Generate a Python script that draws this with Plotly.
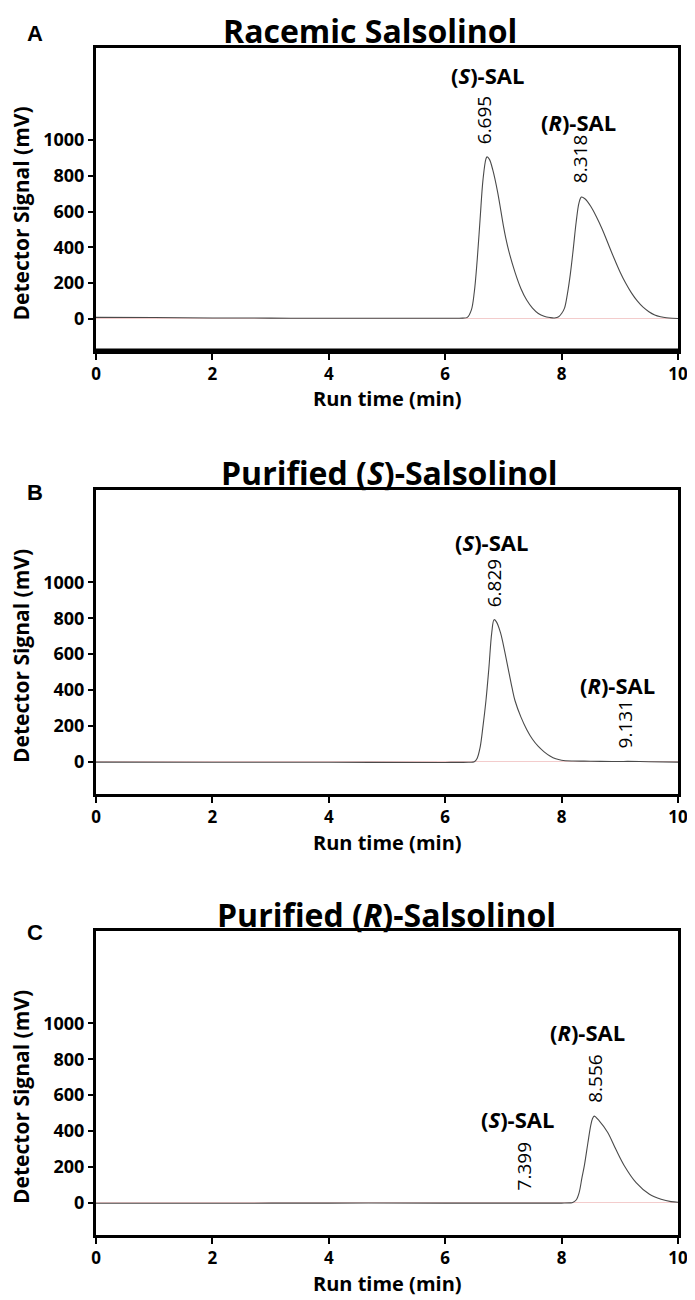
"""
Chiral HPLC chromatograms of salsolinol: racemic, purified (S), purified (R).
"""
import plotly.graph_objects as go
from plotly.subplots import make_subplots

# Panel A - racemic salsolinol (run time in min, detector signal in mV)
racemic_time = [0, 1, 2, 3, 4, 5, 6, 6.3, 6.38, 6.45, 6.5, 6.55, 6.6, 6.65, 6.7, 6.72,
                6.76, 6.82, 6.9, 7.0, 7.04, 7.1, 7.2, 7.3, 7.4, 7.5, 7.6, 7.7, 7.8, 7.88,
                7.95, 8.0, 8.05, 8.1, 8.15, 8.2, 8.25, 8.3, 8.34, 8.4, 8.5, 8.6, 8.7, 8.8,
                8.9, 9.0, 9.1, 9.2, 9.3, 9.4, 9.5, 9.6, 9.7, 9.8, 9.9, 10]
racemic_signal = [8, 7, 5, 4, 3, 3, 3, 4, 8, 50, 150, 330, 560, 780, 895, 906,
                  892, 830, 710, 520, 453, 370, 260, 170, 105, 60, 30, 14, 7, 5,
                  12, 30, 60, 140, 250, 390, 540, 650, 681, 672, 630, 570, 500, 420,
                  340, 265, 200, 145, 100, 65, 40, 22, 12, 6, 3, 2]

# Panel B - purified (S)-salsolinol
s_pure_time = [0, 2, 4, 6, 6.4, 6.5, 6.55, 6.6, 6.65, 6.7, 6.75, 6.8, 6.84, 6.88, 6.95,
               7.0, 7.1, 7.15, 7.2, 7.3, 7.4, 7.5, 7.6, 7.7, 7.8, 7.9, 8.0, 8.2, 8.5,
               9.0, 9.13, 9.5, 10]
s_pure_signal = [-2, -3, -3, -4, -3, 0, 20, 80, 200, 340, 520, 720, 792, 780, 720,
                 650, 490, 410, 340, 250, 180, 125, 85, 55, 32, 16, 8, 4, 3,
                 1, 2, 0, -2]

# Panel C - purified (R)-salsolinol
r_pure_time = [0, 2, 4, 6, 7.4, 8, 8.15, 8.19, 8.25, 8.3, 8.35, 8.39, 8.45, 8.5, 8.53,
               8.56, 8.65, 8.79, 8.93, 9.08, 9.28, 9.51, 9.71, 9.88, 10]
r_pure_signal = [-3, -3, -2, -2, -2, -2, -1, 1, 15, 55, 140, 205, 330, 430, 468,
                 483, 455, 393, 299, 205, 112, 47, 19, 6, 3]

# Peak labels per panel: (x, y, text)
peak_names = [
    [(6.72, 1365, '(<i>S</i>)-SAL'), (8.29, 1100, '(<i>R</i>)-SAL')],
    [(6.80, 1225, '(<i>S</i>)-SAL'), (8.96, 430, '(<i>R</i>)-SAL')],
    [(8.45, 953, '(<i>R</i>)-SAL'), (7.25, 467, '(<i>S</i>)-SAL')],
]
retention_times = [
    [(6.67, 1112, '6.695'), (8.33, 892, '8.318')],
    [(6.83, 992, '6.829'), (9.09, 208, '9.131')],
    [(8.56, 692, '8.556'), (7.35, 201, '7.399')],
]
panel_titles = ['Racemic Salsolinol', 'Purified (<i>S</i>)-Salsolinol',
                'Purified (<i>R</i>)-Salsolinol']
panel_letters = ['A', 'B', 'C']

OFF = 8                      # page body margin
W, H = 695 - OFF, 1300 - OFF
L, R = 96 - OFF, 17
# frame top/bottom in page px for each panel
FRAMES = [(48, 351), (490, 794), (931, 1235)]
TITLE_POS = [(370, 30.5), (389, 473), (386, 914)]
LETTER_Y = [33, 492, 932]
BOLD = 'Open Sans, Lato, sans-serif'


def px_x(p):
    return (p - OFF - L) / (W - L - R)


def px_y(p):
    return 1 - (p - OFF) / H


fig = make_subplots(rows=3, cols=1)
series = [(racemic_time, racemic_signal), (s_pure_time, s_pure_signal),
          (r_pure_time, r_pure_signal)]

for i, (t, s) in enumerate(series):
    row = i + 1
    fig.add_trace(go.Scatter(x=t, y=s, mode='lines', line=dict(color='#4a4a4a', width=1.1),
                             line_shape='spline', showlegend=False), row=row, col=1)
    top, bot = FRAMES[i]
    fig.update_xaxes(domain=[0, 1], range=[0, 10], tickvals=[0, 2, 4, 6, 8, 10],
                     ticks='outside', ticklen=6, tickwidth=2, tickcolor='black',
                     showline=True, linewidth=3, linecolor='black', mirror=True,
                     showgrid=False, zeroline=False, automargin=False,
                     tickfont=dict(family=BOLD, size=17, color='black', weight='bold'),
                     row=row, col=1)
    fig.update_yaxes(domain=[px_y(bot), px_y(top)], range=[-180, 1515],
                     tickvals=[0, 200, 400, 600, 800, 1000],
                     ticks='outside', ticklen=5, tickwidth=2, tickcolor='black',
                     showline=True, linewidth=3, linecolor='black', mirror=True,
                     showgrid=False, zeroline=True, zerolinecolor='#f3cccc',
                     zerolinewidth=1, automargin=False,
                     tickfont=dict(family=BOLD, size=18, color='black', weight='bold'),
                     row=row, col=1)

    xref = 'x' if i == 0 else f'x{row}'
    yref = 'y' if i == 0 else f'y{row}'
    if i == 0:
        # heavier bottom rule on the first panel
        fig.add_shape(type='line', xref='x domain', yref='y domain', x0=0, x1=1,
                      y0=0, y1=0, line=dict(color='black', width=5))
    for x, y, txt in peak_names[i]:
        fig.add_annotation(x=x, y=y, xref=xref, yref=yref, text=f'<b>{txt}</b>',
                           showarrow=False, xanchor='center', yanchor='middle',
                           font=dict(family=BOLD, size=22, color='black'))
    for x, y, txt in retention_times[i]:
        fig.add_annotation(x=x, y=y, xref=xref, yref=yref, text=txt, textangle=-90,
                           showarrow=False, xanchor='center', yanchor='middle',
                           font=dict(family='Open Sans, sans-serif', size=19, color='black'))

    # panel title, letter, axis titles
    tx, ty = TITLE_POS[i]
    fig.add_annotation(x=px_x(tx), y=px_y(ty), xref='paper', yref='paper',
                       text=f'<b>{panel_titles[i]}</b>', showarrow=False,
                       xanchor='center', yanchor='middle', borderpad=0,
                       font=dict(family=BOLD, size=32, color='black'))
    fig.add_annotation(x=px_x(35), y=px_y(LETTER_Y[i]), xref='paper', yref='paper',
                       text=f'<b>{panel_letters[i]}</b>', showarrow=False,
                       xanchor='center', yanchor='middle',
                       font=dict(family='Liberation Sans, Arial, sans-serif', size=22,
                                 color='black'))
    fig.add_annotation(x=px_x(21), y=px_y((top + bot) / 2 + 14), xref='paper', yref='paper',
                       text='<b>Detector Signal (mV)</b>', textangle=-90, showarrow=False,
                       xanchor='center', yanchor='middle',
                       font=dict(family=BOLD, size=21, color='black'))
    fig.add_annotation(x=px_x(387), y=px_y(bot + 48), xref='paper', yref='paper',
                       text='<b>Run time (min)</b>', showarrow=False,
                       xanchor='center', yanchor='middle', borderpad=0,
                       font=dict(family=BOLD, size=20, color='black'))

fig.update_layout(
    width=W, height=H, plot_bgcolor='white', paper_bgcolor='white',
    margin=dict(l=L, r=R, t=0, b=0), showlegend=False,
)
fig.write_html('out.html')
